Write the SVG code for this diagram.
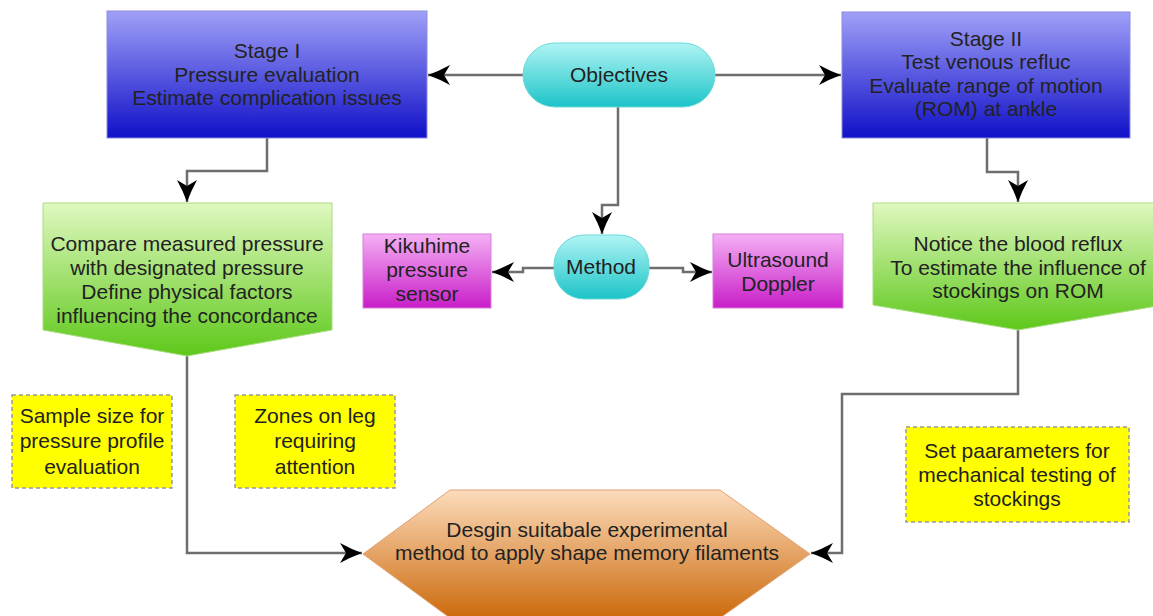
<svg xmlns="http://www.w3.org/2000/svg" width="1153" height="616" viewBox="0 0 1153 616">
<defs>
<linearGradient id="gBlue" x1="0" y1="0" x2="0" y2="1"><stop offset="0" stop-color="#a0a0f8"/><stop offset="1" stop-color="#1010c8"/></linearGradient>
<linearGradient id="gCyan" x1="0" y1="0" x2="0" y2="1"><stop offset="0" stop-color="#b0f4f4"/><stop offset="1" stop-color="#1cc4c8"/></linearGradient>
<linearGradient id="gGreen" x1="0" y1="0" x2="0" y2="1"><stop offset="0" stop-color="#e0f8c0"/><stop offset="1" stop-color="#5ec81a"/></linearGradient>
<linearGradient id="gMag" x1="0" y1="0" x2="0" y2="1"><stop offset="0" stop-color="#f4b0f4"/><stop offset="1" stop-color="#c81ec8"/></linearGradient>
<linearGradient id="gOrange" x1="0" y1="0" x2="0" y2="1"><stop offset="0" stop-color="#fcdcbc"/><stop offset="1" stop-color="#cc6a0c"/></linearGradient>
<marker id="arr" markerUnits="userSpaceOnUse" markerWidth="26" markerHeight="26" refX="23" refY="12" orient="auto">
<path d="M1,2 Q12,8 23,12 Q12,16 1,22 L7,12 z" fill="#000"/>
</marker>
</defs>
<style>
text{font-family:"Liberation Sans",Arial,sans-serif;font-size:21px;fill:#222;text-anchor:middle}
.conn{fill:none;stroke:#6e6e6e;stroke-width:2.5}
.note{fill:#ffff00;stroke:#999;stroke-width:1.5;stroke-dasharray:4 3}
</style>
<g id="connectors">
<path class="conn" d="M523,75 L428,75" marker-end="url(#arr)"/>
<path class="conn" d="M715,75 L841,75" marker-end="url(#arr)"/>
<path class="conn" d="M267,138 V171 H187 V202" marker-end="url(#arr)"/>
<path class="conn" d="M618,107 V205 H602 V234" marker-end="url(#arr)"/>
<path class="conn" d="M987,138 V172 H1018 V202" marker-end="url(#arr)"/>
<path class="conn" d="M554,268 H523 V272 H492" marker-end="url(#arr)"/>
<path class="conn" d="M649,268 H683 V272 H712" marker-end="url(#arr)"/>
<path class="conn" d="M187,356 V553 H362" marker-end="url(#arr)"/>
<path class="conn" d="M1018,330 V394 H842 V553 H811" marker-end="url(#arr)"/>
</g>
<g id="stage1">
<rect x="107" y="11" width="320" height="127" fill="url(#gBlue)" stroke="#8c8ce0" stroke-width="1"/>
<text x="267" y="58">Stage I</text>
<text x="267" y="82">Pressure evaluation</text>
<text x="267" y="105">Estimate complication issues</text>
</g>
<g id="objectives">
<rect x="523" y="43" width="192" height="64" rx="32" ry="32" fill="url(#gCyan)" stroke="#6cd8d8" stroke-width="1"/>
<text x="619" y="82">Objectives</text>
</g>
<g id="stage2">
<rect x="842" y="12" width="288" height="126" fill="url(#gBlue)" stroke="#8c8ce0" stroke-width="1"/>
<text x="986" y="46">Stage II</text>
<text x="986" y="69">Test venous refluc</text>
<text x="986" y="93">Evaluate range of motion</text>
<text x="986" y="116">(ROM) at ankle</text>
</g>
<g id="compare">
<path d="M43,203 H332 V330 L187,356 L43,330 Z" fill="url(#gGreen)" stroke="#a8dc80" stroke-width="1"/>
<text x="187" y="251">Compare measured pressure</text>
<text x="187" y="275">with designated pressure</text>
<text x="187" y="299">Define physical factors</text>
<text x="187" y="323">influencing the concordance</text>
</g>
<g id="notice">
<path d="M873,203 H1163 V305 L1018,330 L873,305 Z" fill="url(#gGreen)" stroke="#a8dc80" stroke-width="1"/>
<text x="1018" y="251">Notice the blood reflux</text>
<text x="1018" y="275">To estimate the influence of</text>
<text x="1018" y="298">stockings on ROM</text>
</g>
<g id="method">
<rect x="554" y="235" width="95" height="64" rx="30" ry="30" fill="url(#gCyan)" stroke="#6cd8d8" stroke-width="1"/>
<text x="601" y="274">Method</text>
</g>
<g id="kikuhime">
<rect x="363" y="234" width="128" height="74" fill="url(#gMag)" stroke="#d880d8" stroke-width="1"/>
<text x="427" y="253">Kikuhime</text>
<text x="427" y="277">pressure</text>
<text x="427" y="301">sensor</text>
</g>
<g id="ultrasound">
<rect x="713" y="234" width="130" height="74" fill="url(#gMag)" stroke="#d880d8" stroke-width="1"/>
<text x="778" y="267">Ultrasound</text>
<text x="778" y="291">Doppler</text>
</g>
<g id="sample">
<rect class="note" x="12" y="395" width="160" height="93"/>
<text x="92" y="423">Sample size for</text>
<text x="92" y="448">pressure profile</text>
<text x="92" y="474">evaluation</text>
</g>
<g id="zones">
<rect class="note" x="235" y="395" width="160" height="93"/>
<text x="315" y="423">Zones on leg</text>
<text x="315" y="448">requiring</text>
<text x="315" y="474">attention</text>
</g>
<g id="setparams">
<rect class="note" x="906" y="427" width="223" height="95"/>
<text x="1017" y="458">Set paarameters for</text>
<text x="1017" y="482">mechanical testing of</text>
<text x="1017" y="506">stockings</text>
</g>
<g id="design">
<path d="M450,490 H720 L810,554 L720,618 H450 L363,554 Z" fill="url(#gOrange)" stroke="#e0a070" stroke-width="1"/>
<text x="587" y="537">Desgin suitabale experimental</text>
<text x="587" y="560">method to apply shape memory filaments</text>
</g>
</svg>
